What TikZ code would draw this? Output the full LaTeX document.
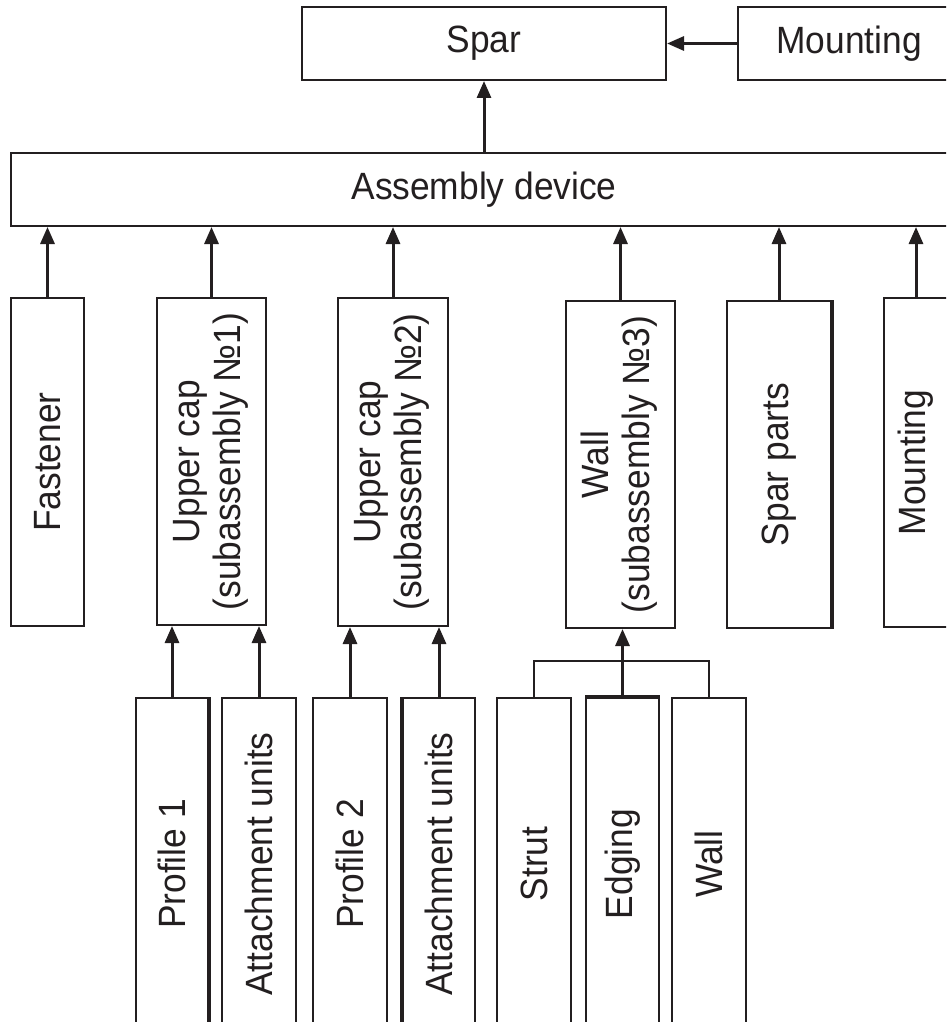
\documentclass[tikz,border=0pt]{standalone}
\usepackage{fontspec}
\setmainfont{Liberation Sans}[FakeStretch=0.93]
\usetikzlibrary{arrows.meta}
\definecolor{ink}{RGB}{35,31,32}
\newcommand{\vtext}[1]{\rotatebox{90}{#1}}
\newcommand{\vtwo}[2]{\rotatebox{90}{\begin{tabular}{@{}c@{}}#1\\#2\end{tabular}}}
\begin{document}
\begin{tikzpicture}[x=1pt,y=-1pt,
  font=\fontsize{38}{41}\selectfont,
  box/.style={draw=ink, line width=2pt, inner sep=0pt, text=ink, align=center},
  arr/.style={draw=ink, line width=3pt, -{Triangle[width=14pt,length=17pt]}},
  link/.style={draw=ink, line width=2pt},
  heavy/.style={draw=ink, line width=4pt}]
\clip (0,0) rectangle (946,1022);
\fill[white] (0,0) rectangle (946,1022);
% top row
\node[box, minimum width=364pt, minimum height=73pt] (spar) at (484,43.5) {Spar};
\node[box, minimum width=222pt, minimum height=73pt] (mount) at (849,43.5) {Mounting};
\node[box, minimum width=946pt, minimum height=73pt] (asm) at (484,189.5) {Assembly device};
% middle row
\node[box, minimum width=73pt, minimum height=328pt] (fast) at (47.5,462) {\vtext{Fastener}};
\node[box, minimum width=109pt, minimum height=327pt] (uc1) at (211.5,461.5) {\vtwo{Upper cap}{(subassembly №1)}};
\node[box, minimum width=110pt, minimum height=328pt] (uc2) at (393,462) {\vtwo{Upper cap}{(subassembly №2)}};
\node[box, minimum width=109pt, minimum height=327pt] (wall) at (620.5,464.5) {\vtwo{Wall}{(subassembly №3)}};
\node[box, minimum width=104pt, minimum height=327pt] (sparts) at (779,464.5) {\vtext{Spar parts}};
\node[box, minimum width=64pt, minimum height=329pt] (mountv) at (916,462.5) {\vtext{Mounting}};
% bottom row
\node[box, minimum width=72pt, minimum height=332pt] (p1) at (172,864) {\vtext{Profile 1}};
\node[box, minimum width=74pt, minimum height=332pt] (a1) at (259,864) {\vtext{Attachment units}};
\node[box, minimum width=74pt, minimum height=332pt] (p2) at (350,864) {\vtext{Profile 2}};
\node[box, minimum width=72pt, minimum height=332pt] (a2) at (439,864) {\vtext{Attachment units}};
\node[box, minimum width=74pt, minimum height=332pt] (strut) at (534,864) {\vtext{Strut}};
\node[box, minimum width=73pt, minimum height=332pt] (edg) at (622.5,864) {\vtext{Edging}};
\node[box, minimum width=74pt, minimum height=332pt] (wallp) at (709,864) {\vtext{Wall}};
% heavier edges
\draw[heavy] (sparts.north east) -- (sparts.south east);
\draw[heavy] (p1.north east) -- (p1.south east);
\draw[heavy] (a2.north west) -- (a2.south west);
\draw[heavy] (edg.north west) -- (edg.north east);
% connectors
\draw[arr] (mount.west) -- (spar.east);
\draw[arr] (asm.north) -- (spar.south);
\foreach \n in {fast,uc1,uc2,wall,sparts,mountv}
  \draw[arr] (\n.north) -- (\n.north |- asm.south);
\draw[arr] (p1.north) -- (p1.north |- uc1.south);
\draw[arr] (a1.north) -- (a1.north |- uc1.south);
\draw[arr] (p2.north) -- (p2.north |- uc2.south);
\draw[arr] (a2.north) -- (a2.north |- uc2.south);
\draw[link] (strut.north) -- ++(0,-36) -| (wallp.north);
\draw[arr] (edg.north) -- (edg.north |- wall.south);
\end{tikzpicture}
\end{document}
